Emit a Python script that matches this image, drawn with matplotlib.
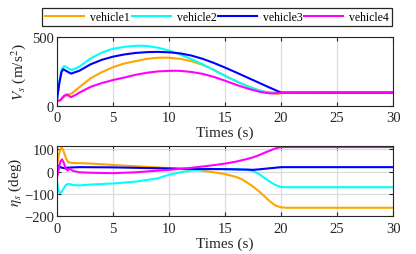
import matplotlib
matplotlib.use("Agg")
import matplotlib.pyplot as plt

plt.rcParams['font.family'] = ['Liberation Serif', 'DejaVu Serif']
plt.rcParams['mathtext.fontset'] = 'stix'

names = ['vehicle1', 'vehicle2', 'vehicle3', 'vehicle4']
colors = ['#FFA500', '#00FFFF', '#0000FF', '#FF00FF']

# ---- top panel: V_s ----
t_v1 = [0, 0.3, 0.7, 1.0, 1.3, 2, 3, 4, 5, 6, 7, 8, 9, 9.5, 10, 11, 12, 13, 14, 15, 16, 17, 18, 19, 19.7, 20, 20.5, 30]
v_v1 = [32, 38, 69, 82, 88, 135, 200, 245, 281, 308, 325, 342, 350, 351, 350, 342, 325, 298, 262, 218, 178, 142, 112, 92, 86, 91, 95, 95]
t_v2 = [0, 0.2, 0.4, 0.65, 0.9, 1.3, 2, 3, 4, 5, 6, 7, 7.5, 8, 9, 10, 11, 12, 13, 14, 15, 16, 17, 18, 18.5, 19, 19.5, 20, 30]
v_v2 = [44, 170, 265, 290, 278, 260, 285, 345, 388, 416, 430, 437, 438, 436, 424, 402, 374, 340, 302, 260, 217, 178, 142, 112, 102, 97, 95, 95, 95]
t_v3 = [0, 0.2, 0.4, 0.56, 0.9, 1.25, 2, 3, 4, 5, 6, 7, 8, 9, 10, 11, 12, 13, 14, 15, 16, 17, 18, 19, 20, 30]
v_v3 = [44, 160, 245, 266, 250, 234, 255, 302, 335, 358, 374, 385, 391, 393, 390, 382, 366, 342, 312, 278, 242, 205, 168, 131, 95, 95]
t_v4 = [0, 0.3, 0.6, 0.86, 1.05, 1.25, 1.6, 2, 3, 4, 5, 6, 7, 8, 9, 10, 10.5, 11, 12, 13, 14, 15, 16, 17, 18, 18.5, 19, 19.5, 20, 30]
v_v4 = [32, 40, 70, 81, 72, 62, 75, 95, 137, 165, 187, 205, 225, 240, 250, 254, 255, 254, 246, 232, 210, 182, 152, 125, 103, 95, 90, 90, 93, 95]

# ---- bottom panel: eta_s ----
t_e1 = [0, 0.15, 0.3, 0.42, 0.6, 0.8, 1.0, 1.5, 2, 3, 5, 7, 10, 12, 13, 14, 15, 16, 16.5, 17, 17.5, 18, 18.5, 19, 19.5, 20, 20.5, 30]
e_e1 = [30, 70, 100, 108, 90, 60, 42, 38, 38, 36, 30, 24, 16, 8, 4, -3, -11, -24, -34, -50, -67, -87, -110, -133, -152, -160, -162, -162]
t_e2 = [0, 0.12, 0.25, 0.4, 0.6, 0.8, 1.0, 1.5, 2, 3, 5, 7, 9, 10, 11, 12, 13, 14, 15, 16, 17, 17.5, 18, 18.5, 19, 19.5, 20, 20.5, 30]
e_e2 = [-45, -80, -96, -92, -75, -60, -55, -60, -62, -58, -53, -45, -30, -14, -3, 5, 10, 12, 11, 10, 8, 3, -10, -28, -45, -60, -69, -70, -70]
t_e3 = [0, 0.2, 0.4, 0.7, 1.0, 2, 5, 10, 12, 15, 17, 17.5, 18, 19, 20, 20.5, 30]
e_e3 = [30, 22, 18, 15, 18, 20, 19, 14, 12, 11, 9, 8, 10, 15, 20, 20, 20]
t_e4 = [0, 0.15, 0.3, 0.45, 0.6, 0.8, 0.95, 1.15, 1.4, 2, 3, 5, 7, 10, 12, 13, 14, 15, 16, 17, 17.5, 18, 18.5, 19, 19.5, 20, 30]
e_e4 = [-28, 10, 45, 55, 40, 12, 5, 14, 4, -3, -5, -7, -3, 8, 17, 23, 29, 36, 45, 57, 64, 73, 84, 94, 104, 110, 110]

top_t = [t_v1, t_v2, t_v3, t_v4]
top_v = [v_v1, v_v2, v_v3, v_v4]
bot_t = [t_e1, t_e2, t_e3, t_e4]
bot_v = [e_e1, e_e2, e_e3, e_e4]

xticks = [0, 5, 10, 15, 20, 25, 30]

fig = plt.figure(figsize=(4.16, 2.55), dpi=100)
ax1 = fig.add_axes([0.137, 0.582, 0.808, 0.268])
ax2 = fig.add_axes([0.137, 0.148, 0.808, 0.274])

lines = []
for tt, vv, c, n in zip(top_t, top_v, colors, names):
    ln, = ax1.plot(tt, vv, color=c, lw=1.5, label=n)
    lines.append(ln)
for tt, vv, c in zip(bot_t, bot_v, colors):
    ax2.plot(tt, vv, color=c, lw=1.5)

ax1.set_ylim(0, 500)
ax1.set_yticks([0, 500])
ax2.set_ylim(-200, 113)
ax2.set_yticks([-200, -100, 0, 100])

for ax in (ax1, ax2):
    ax.set_xlim(0, 30)
    ax.set_xticks(xticks)
    ax.grid(True, color='#dcdcdc', lw=0.9)
    ax.set_axisbelow(True)
    ax.tick_params(direction='in', top=True, right=True, length=3, width=0.8,
                   labelsize=10.5, colors='#262626')
    ax.tick_params(axis='x', pad=4)
    ax.tick_params(axis='y', pad=2)
    for s in ax.spines.values():
        s.set_color('#262626')
        s.set_linewidth(0.8)
    ax.set_xlabel('Times (s)', fontsize=11, labelpad=1, color='#262626')

ax1.set_ylabel(r'$V_s$ (m/s$^2$)', fontsize=11, labelpad=3, color='#262626')
ax2.set_ylabel(r'$\eta_s$ (deg)', fontsize=11, labelpad=0, color='#262626')

leg = fig.legend(handles=lines, loc='lower left', bbox_to_anchor=(0.102, 0.895, 0.840, 0.066),
                 mode='expand', ncol=4, fontsize=8.5, handlelength=3.3, handletextpad=0.5,
                 borderpad=0.25, borderaxespad=0, fancybox=False, framealpha=1,
                 columnspacing=1.0)
leg.get_frame().set_edgecolor('#262626')
leg.get_frame().set_linewidth(0.9)

fig.savefig('out.png', dpi=100)
